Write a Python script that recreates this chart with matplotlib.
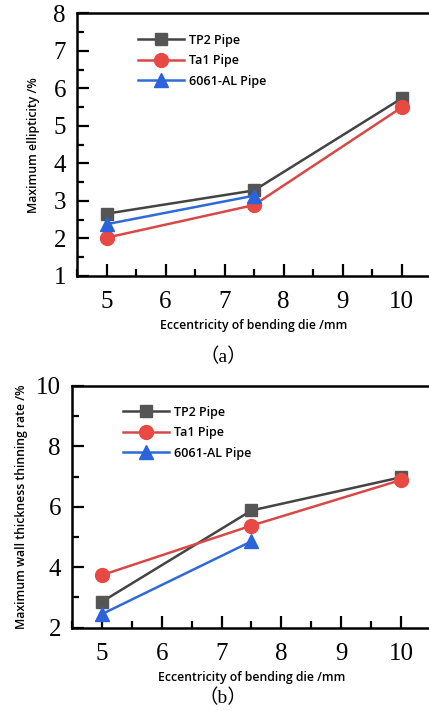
import matplotlib
matplotlib.use("Agg")
import matplotlib.pyplot as plt
from matplotlib.ticker import MultipleLocator

plt.rcParams['font.family'] = ['Liberation Serif', 'Noto Sans CJK SC', 'DejaVu Sans']

# data
ecc_all = [5, 7.5, 10]
ecc_al = [5, 7.5]
names = ['TP2 Pipe', 'Ta1 Pipe', '6061-AL Pipe']

ell_tp2 = [2.66, 3.28, 5.73]
ell_ta1 = [2.02, 2.89, 5.49]
ell_al = [2.38, 3.14]

thin_tp2 = [2.86, 5.88, 6.98]
thin_ta1 = [3.74, 5.38, 6.89]
thin_al = [2.45, 4.86]

xticks = [5, 6, 7, 8, 9, 10]

c_tp2 = '#444444'
c_ta1 = '#d94848'
c_al = '#2f6ad6'
mk_tp2 = '#555555'
mk_ta1 = '#e84a43'
mk_al = '#2b63db'

lab_font = dict(family='Open Sans', weight='semibold', size=8.8)


def draw(ax, tp2, ta1, al, ylim, ymaj, ymin, ylabel, ypad, leg_anchor):
    ax.plot(ecc_all, tp2, color=c_tp2, lw=1.8, marker='s', ms=9,
            mfc=mk_tp2, mec=mk_tp2, label=names[0])
    ax.plot(ecc_all, ta1, color=c_ta1, lw=1.8, marker='o', ms=10,
            mfc=mk_ta1, mec=mk_ta1, label=names[1])
    ax.plot(ecc_al, al, color=c_al, lw=1.8, marker='^', ms=10,
            mfc=mk_al, mec=mk_al, label=names[2])
    ax.set_xlim(4.5, 10.5)
    ax.set_ylim(*ylim)
    ax.set_xticks(xticks)
    ax.xaxis.set_minor_locator(MultipleLocator(0.5))
    ax.yaxis.set_major_locator(MultipleLocator(ymaj))
    ax.yaxis.set_minor_locator(MultipleLocator(ymin))
    ax.tick_params(which='both', direction='in', width=1.6,
                   top=False, right=False)
    ax.tick_params(axis='x', pad=11)
    ax.tick_params(axis='y', pad=8)
    ax.tick_params(which='major', length=8.5)
    ax.tick_params(which='minor', length=5)
    for lbl in ax.get_xticklabels() + ax.get_yticklabels():
        lbl.set_fontfamily('Liberation Serif')
        lbl.set_fontsize(18)
    for s in ['left', 'bottom', 'top']:
        ax.spines[s].set_linewidth(1.8)
    ax.spines['right'].set_visible(False)
    ax.set_xlabel('Eccentricity of bending die /mm', fontdict=lab_font, labelpad=4)
    ax.set_ylabel(ylabel, fontdict=lab_font, labelpad=ypad)
    leg = ax.legend(loc='upper left', bbox_to_anchor=leg_anchor, frameon=False,
                    handlelength=3.7, handletextpad=0.4, labelspacing=0.6,
                    prop=dict(family='Open Sans', weight='semibold', size=9))
    return leg


fig = plt.figure(figsize=(4.29, 7.11), dpi=100)
ax1 = fig.add_axes([77 / 429, 1 - 276 / 711, 354 / 429, 262.7 / 711])
draw(ax1, ell_tp2, ell_ta1, ell_al, (1, 8), 1, 0.5, 'Maximum ellipticity /%',
     10, (0.14, 0.965))

ax2 = fig.add_axes([72 / 429, 1 - 627.7 / 711, 359 / 429, 241.7 / 711])
draw(ax2, thin_tp2, thin_ta1, thin_al, (2, 10), 2, 1,
     'Maximum wall thickness thinning rate /%', 6, (0.11, 0.965))

fig.text(223 / 429, 1 - 357 / 711, '（a）', ha='center', va='center', fontsize=14,
         family=['Liberation Serif', 'Noto Sans CJK SC'])
fig.text(223 / 429, 1 - 698 / 711, '（b）', ha='center', va='center', fontsize=14,
         family=['Liberation Serif', 'Noto Sans CJK SC'])

fig.savefig('out.png', dpi=100)
